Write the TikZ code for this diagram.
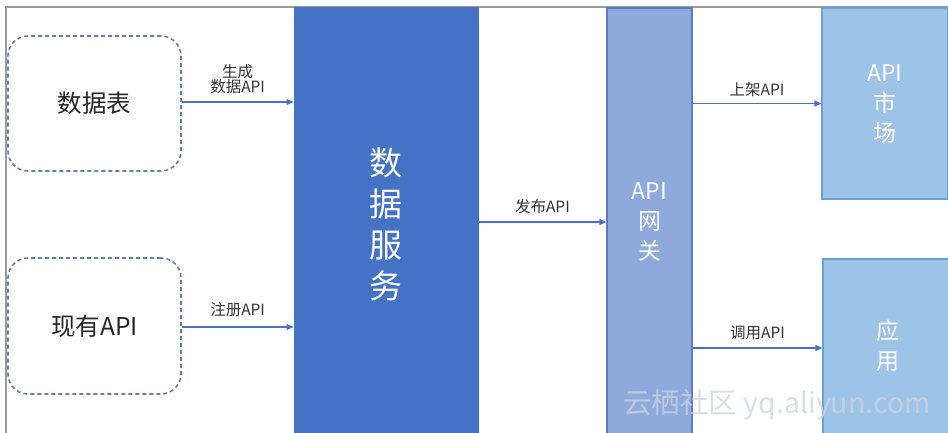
\documentclass[tikz,border=0pt]{standalone}
\usepackage{fontspec}
\setmainfont{Noto Sans CJK SC}
\usetikzlibrary{arrows.meta}
\definecolor{dsblue}{HTML}{4472C4}
\definecolor{gwblue}{HTML}{8EA9DB}
\definecolor{gwline}{HTML}{5B7BC8}
\definecolor{mkblue}{HTML}{9DC3E6}
\definecolor{mkline}{HTML}{6A9FD8}
\definecolor{dashc}{HTML}{5A7DC0}
\definecolor{arrowc}{HTML}{4A6FCC}
\definecolor{framec}{HTML}{9A9A9A}
\definecolor{wmark}{HTML}{CFD4DE}
\tikzset{
  dashbox/.style={draw=dashc, line width=1.6pt, dash pattern=on 4pt off 3pt,
    rounded corners=20pt, minimum width=173pt, minimum height=135pt,
    font=\fontsize{24.5}{28}\selectfont, text=black!85},
  bigbox/.style={draw=dsblue, fill=dsblue, line width=1pt, minimum width=184pt,
    minimum height=432pt, text=white, align=center, font=\fontsize{33}{41}\selectfont},
  gwbox/.style={draw=gwline, fill=gwblue, line width=1.2pt, minimum width=85pt,
    minimum height=428pt, text=white, align=center, font=\fontsize{23}{30}\selectfont},
  sidebox/.style={draw=mkline, fill=mkblue, line width=1.2pt, text=white,
    align=center, font=\fontsize{23}{30}\selectfont},
  conn/.style={draw=arrowc, line width=1.4pt, -{Triangle[length=7pt,width=6pt]}},
  lbl/.style={font=\fontsize{15.5}{18}\selectfont, text=black!80, align=center},
}
\begin{document}
\begin{tikzpicture}[x=1pt,y=-1pt]
\useasboundingbox (0,0) rectangle (948,433);
\clip (0,0) rectangle (948,433);
\fill[white] (0,0) rectangle (948,433);
% frame
\draw[framec, line width=1.3pt] (6,440) -- (6,7) -- (960,7);
% nodes
\node[dashbox] (tbl) at (94.5,103.5) {数据表};
\node[dashbox, minimum height=136pt] (exist) at (94.5,326) {现有API};
\node[bigbox] (ds) at (386,224) {数\\据\\服\\务};
\node[gwbox] (gw) at (649.5,222) {API\\网\\关};
\node[sidebox, minimum width=126pt, minimum height=191pt] (mk) at (885,103.5) {API\\市\\场};
\node[sidebox, minimum width=130pt, minimum height=180pt] (app) at (888,349) {};
\node[sidebox, draw=none, fill=none] (applbl) at (888,346) {应\\用};
% connectors
\draw[conn] (tbl.east |- 0,102) -- (ds.west |- 0,102)
  node[lbl, midway, yshift=23pt] (l1) {生成\\[-3pt]数据API};
\draw[conn] (exist.east |- 0,327) -- (ds.west |- 0,327)
  node[lbl, midway, yshift=17pt] (l2) {注册API};
\draw[conn] (ds.east |- 0,222) -- (gw.west |- 0,222)
  node[lbl, midway, yshift=15pt] (l3) {发布API};
\draw[conn] (gw.east |- mk.west) -- (mk.west)
  node[lbl, midway, yshift=14pt] (l4) {上架API};
\draw[conn] (gw.east |- 0,348) -- (app.west |- 0,348)
  node[lbl, midway, yshift=15pt] (l5) {调用API};
% watermark
\node[text=wmark, opacity=0.75, font=\fontsize{28.5}{32}\selectfont] (wm) at (777,405) {云栖社区 yq.aliyun.com};
\end{tikzpicture}
\end{document}
